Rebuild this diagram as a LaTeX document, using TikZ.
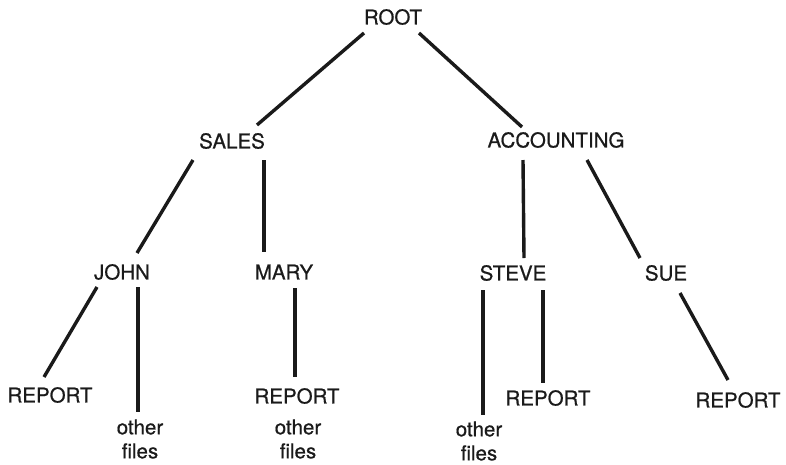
\documentclass[tikz,border=0pt]{standalone}
\usepackage{fontspec}
\setmainfont[FakeBold=0.6]{TeX Gyre Heros}
\usetikzlibrary{calc}
\definecolor{ink}{HTML}{1A1A1A}
\tikzset{
  lbl/.style={inner sep=0pt, text=ink, font=\fontsize{20.5}{24}\selectfont, align=center},
  edge/.style={draw=ink, line width=3.4pt}
}
\begin{document}
\begin{tikzpicture}[x=1pt,y=-1pt]
\useasboundingbox[fill=white] (0,0) rectangle (786,464);
% nodes
\node[lbl] (root) at (393,17) {ROOT};
\node[lbl] (sales) at (232,141) {SALES};
\node[lbl] (acc) at (556,140) {ACCOUNTING};
\node[lbl] (john) at (122,272) {JOHN};
\node[lbl] (mary) at (284,272) {MARY};
\node[lbl] (steve) at (513,273) {STEVE};
\node[lbl] (sue) at (666,273) {SUE};
\node[lbl] (rep1) at (50,395) {REPORT};
\node[lbl] (oth1) at (140,439) {other\\files};
\node[lbl] (rep2) at (297,396) {REPORT};
\node[lbl] (oth2) at (298,439) {other\\files};
\node[lbl] (oth3) at (479,441) {other\\files};
\node[lbl] (rep3) at (548,398) {REPORT};
\node[lbl] (rep4) at (738,400) {REPORT};
% connectors
\draw[edge] ($(root)+(-29,16)$) -- ($(sales)+(25,-16)$);
\draw[edge] ($(root)+(26,16)$) -- ($(acc)+(-34,-13)$);
\draw[edge] ($(sales)+(-39,19)$) -- ($(john)+(15,-19)$);
\draw[edge] ($(sales)+(32,19)$) -- ($(mary)+(-20,-20)$);
\draw[edge] ($(acc)+(-33,20)$) -- ($(steve)+(11,-15)$);
\draw[edge] ($(acc)+(31,20)$) -- ($(sue)+(-26,-15)$);
\draw[edge] ($(john)+(-25,15)$) -- ($(rep1)+(-6,-18)$);
\draw[edge] ($(john)+(16,15)$) -- ($(oth1)+(-2,-27)$);
\draw[edge] ($(mary)+(11,16)$) -- ($(rep2)+(-2,-19)$);
\draw[edge] ($(steve)+(-30,17)$) -- ($(oth3)+(4,-26)$);
\draw[edge] ($(steve)+(30,17)$) -- ($(rep3)+(-5,-15)$);
\draw[edge] ($(sue)+(14,20)$) -- ($(rep4)+(-10,-20)$);
\end{tikzpicture}
\end{document}
